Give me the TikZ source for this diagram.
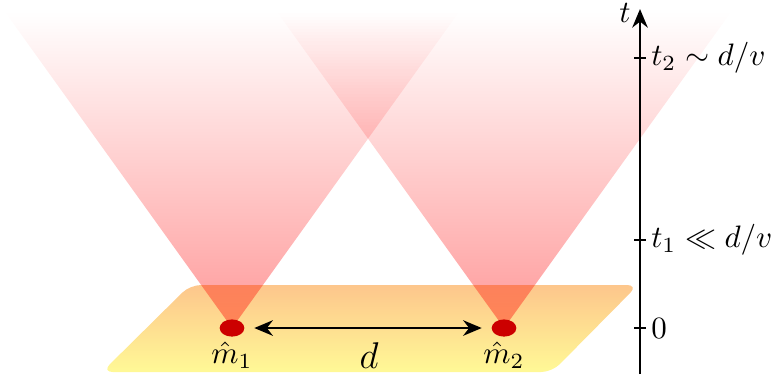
\documentclass[tikz,border=0pt]{standalone}
\usepackage{amssymb}
\usetikzlibrary{shapes.geometric,fadings,arrows.meta}
\definecolor{planetop}{RGB}{253,198,140}
\definecolor{planebot}{RGB}{255,249,150}
\definecolor{dotred}{RGB}{204,0,0}
\tikzfading[name=conefade, top color=transparent!100, bottom color=transparent!60]
\tikzset{
  massdot/.style={ellipse, fill=dotred, minimum width=0.28cm, minimum height=0.195cm, inner sep=0pt},
  cone/.style={fill=red, path fading=conefade},
  axisline/.style={thick, -{Stealth[length=6pt,width=5pt]}},
  tickmark/.style={semithick},
  ticklabel/.style={anchor=west, inner sep=1.5pt},
  dist/.style={thick, {Stealth[length=6pt,width=5pt]}-{Stealth[length=6pt,width=5pt]}, shorten <=3pt, shorten >=3pt}
}
\begin{document}
\begin{tikzpicture}[x=0.01134cm, y=-0.01134cm]
\useasboundingbox (0,0) rectangle (779,378);
% plane
\shade[top color=planetop, bottom color=planebot, rounded corners=3.5pt]
  (190,285) -- (638,285) -- (552,372) -- (102,372) -- cycle;
% cones
\fill[cone] (5,12) -- (459,12) -- (232,328) -- cycle;
\fill[cone] (277,12) -- (731,12) -- (504,328) -- cycle;
% masses
\node[massdot] (m1) at (232,328) {};
\node[massdot] (m2) at (504,328) {};
\draw[dist] (m1) -- (m2);
\node (l1) at (232,355) {$\hat{m}_1$};
\node (l2) at (504,355) {$\hat{m}_2$};
\node (dl) at (369,356) {\large $d$};
% time axis
\coordinate (tb) at (640,374);
\coordinate (tt) at (640,9);
\draw[axisline] (tb) -- (tt);
\node (tl) at (625,13) {$t$};
\coordinate (k0a) at (634,328); \coordinate (k0b) at (646,328);
\coordinate (k1a) at (634,240); \coordinate (k1b) at (646,240);
\coordinate (k2a) at (634,58);  \coordinate (k2b) at (646,58);
\draw[tickmark] (k0a) -- (k0b);
\draw[tickmark] (k1a) -- (k1b);
\draw[tickmark] (k2a) -- (k2b);
\node[ticklabel] (lab0) at (k0b) {$0$};
\node[ticklabel] (lab1) at (k1b) {$t_1 \ll d/v$};
\node[ticklabel] (lab2) at (k2b) {$t_2 \sim d/v$};
\end{tikzpicture}
\end{document}
